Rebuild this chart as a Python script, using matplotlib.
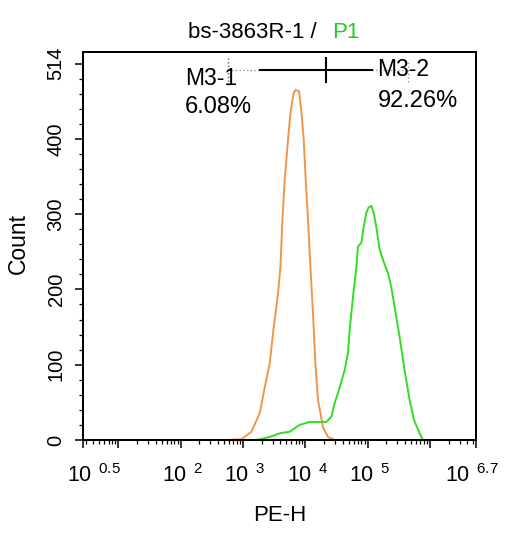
import matplotlib
matplotlib.use("Agg")
import matplotlib.pyplot as plt
import matplotlib.transforms as mtransforms
from matplotlib.ticker import FixedLocator, LogLocator, MultipleLocator, NullFormatter

plt.rcParams["font.family"] = ["Liberation Sans", "DejaVu Sans"]

# PE-H values / counts
orange_x = [552, 950, 1375, 1866, 2244, 2699, 3048, 3664, 4006, 4313, 4693, 5300,
            5795, 6544, 7047, 7962, 8696, 9466, 10190, 11090, 12110, 13330,
            14560, 16030, 17530, 19290, 23190, 29700]
orange_y = [0, 1, 11, 36, 70, 102, 142, 195, 230, 293, 346, 399,
            435, 461, 465, 463, 435, 399, 346, 293, 230, 169,
            102, 53, 36, 17, 4, 0]

green_x = [1670, 2699, 3900, 5640, 8110, 11720, 15100, 21880, 26300, 29720,
           35730, 42960, 48530, 51650, 58360, 66190, 70180, 79560, 86560,
           95680, 104200, 115100, 125300, 138400, 156400, 188000, 212300,
           240600, 271700, 326600, 392600, 472900, 554600, 684000, 773000]
green_y = [0, 4, 9, 11, 20, 24, 24, 24, 31, 49,
           70, 93, 116, 146, 190, 230, 257, 262, 283,
           302, 309, 311, 302, 283, 253, 233, 222,
           203, 177, 137, 93, 53, 27, 9, 0]

# marker gates M3-1 / M3-2
gate_left, gate_mid, gate_right = 573, 21330, 439300
gate_solid = [1866, 116400]
gate_y = 492
gate_names = ["M3-1", "M3-2"]
gate_pcts = ["6.08%", "92.26%"]

x_lo, x_hi = 10 ** 0.44, 10 ** 6.74
x_major = [x_lo, 10, 1e2, 1e3, 1e4, 1e5, 1e6, x_hi]
x_labels = [r"$\mathregular{10^{\ \,0.5}}$", "", r"$\mathregular{10^{\ \,2}}$",
            r"$\mathregular{10^{\ \,3}}$", r"$\mathregular{10^{\ \,4}}$",
            r"$\mathregular{10^{\ \,5}}$", "", r"$\mathregular{10^{\ \,6.7}}$"]
y_major = [0, 100, 200, 300, 400, 500]
y_labels = ["0", "100", "200", "300", "400", "514"]

orange = "#F0964A"
green = "#33DD22"

fig = plt.figure(figsize=(5.12, 5.36), dpi=100)
ax = fig.add_axes([83.3 / 512, 1 - 440 / 536, (476 - 83.3) / 512, (440 - 52.3) / 536])

ax.plot(orange_x, orange_y, color=orange, lw=1.4)
ax.plot(green_x, green_y, color=green, lw=1.4)

# gates
ax.plot([gate_left, gate_solid[0]], [gate_y, gate_y], ls=":", color="#999999", lw=1)
ax.plot([gate_solid[1], gate_right], [gate_y, gate_y], ls=":", color="#999999", lw=1)
ax.plot(gate_solid, [gate_y, gate_y], color="black", lw=1.5)
ax.plot([gate_mid, gate_mid], [476, 507], color="black", lw=1.5)
ax.plot([gate_left, gate_left], [472, 508], ls=":", color="#555555", lw=1)
ax.plot([gate_right, gate_right], [475, 503], ls=":", color="#999999", lw=1)

ax.text(117, 472, gate_names[0], fontsize=16.5, ha="left", va="baseline")
ax.text(117, 435, gate_pcts[0], fontsize=17, ha="left", va="baseline")
ax.text(145000, 483, gate_names[1], fontsize=16.5, ha="left", va="baseline")
ax.text(145000, 443, gate_pcts[1], fontsize=17, ha="left", va="baseline")

ax.set_xscale("log")
ax.set_xlim(x_lo, x_hi)
ax.set_ylim(0, 515)

ax.xaxis.set_major_locator(FixedLocator(x_major))
ax.set_xticklabels(x_labels, fontsize=15.5)
ax.xaxis.set_minor_locator(LogLocator(base=10, subs=range(2, 10), numticks=20))
ax.xaxis.set_minor_formatter(NullFormatter())

ax.set_yticks(y_major)
ax.set_yticklabels(y_labels, fontsize=14.5, rotation=90, va="center")
ax.yaxis.set_minor_locator(MultipleLocator(20))

ax.tick_params(which="major", length=5.8, width=1.1, direction="out")
ax.tick_params(which="minor", length=2.9, width=0.9, direction="out")
ax.tick_params(axis="x", which="major", pad=11.5)
ax.tick_params(axis="y", which="major", pad=7)

for s in ax.spines.values():
    s.set_linewidth(1.44)

# nudge x tick labels like the original
shifts = [11, 0, 2, 2, 2, 2, 0, -4]
for lab, dx in zip(ax.get_xticklabels(), shifts):
    off = mtransforms.ScaledTranslation(dx / 100, 0, fig.dpi_scale_trans)
    lab.set_transform(lab.get_transform() + off)

ax.set_xlabel("PE-H", fontsize=16)
ax.set_ylabel("Count", fontsize=16.5)
ax.xaxis.set_label_coords(0.501, -0.167)
ax.yaxis.set_label_coords(-0.137, 0.507)

t1 = fig.text(188 / 512, 1 - 38.3 / 536, "bs-3863R-1 /", fontsize=16,
              ha="left", va="baseline")
ax.annotate("P1", xy=(1, 0), xycoords=t1, xytext=(10.8, 0),
            textcoords="offset points", ha="left", va="bottom",
            fontsize=16, color="#22CC22")

fig.savefig("out.png", dpi=100)
